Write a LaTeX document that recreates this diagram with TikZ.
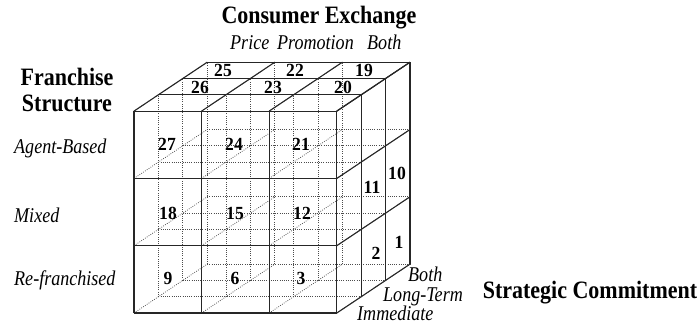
\documentclass[tikz,border=0pt]{standalone}
\usepackage{fontspec}
\setmainfont{Liberation Serif}
\newfontfamily\ttlfont[FakeStretch=0.88]{Liberation Serif}
\newfontfamily\labfont[FakeStretch=0.86]{Liberation Serif}
\newfontfamily\numfont[FakeStretch=0.95]{Liberation Serif}
\begin{document}
\begin{tikzpicture}[x=1pt,y=-1pt,
  solidline/.style={line width=1.1pt,draw=black!85},
  hidden/.style={line width=0.75pt,draw=black!70,dash pattern=on 0.8pt off 1.4pt},
  num/.style={font=\numfont\fontsize{18.5}{18}\selectfont\bfseries,inner sep=0pt},
  lab/.style={font=\labfont\fontsize{21}{22}\selectfont\itshape,inner sep=0pt},
  ttl/.style={font=\ttlfont\fontsize{25}{26}\selectfont\bfseries,inner sep=0pt}]
\useasboundingbox (0,0) rectangle (698,327);
\foreach \i in {0,...,3}{\foreach \j in {0,...,3}{\foreach \k in {0,...,3}{
  \coordinate (p\i\j\k) at ({134+67.6*\i+24.4*\k},{313-67.3*\j-16.3*\k});
}}}
% hidden lattice lines
\foreach \a in {0,...,3}{\foreach \b in {0,...,3}{
  \draw[hidden] (p0\a\b) -- (p3\a\b);
  \draw[hidden] (p\a0\b) -- (p\a3\b);
  \draw[hidden] (p\a\b0) -- (p\a\b3);
}}
% visible surfaces
\foreach \a in {0,...,3}{
  \draw[solidline] (p0\a0) -- (p3\a0);
  \draw[solidline] (p\a00) -- (p\a30);
  \draw[solidline] (p03\a) -- (p33\a);
  \draw[solidline] (p\a30) -- (p\a33);
  \draw[solidline] (p30\a) -- (p33\a);
  \draw[solidline] (p3\a0) -- (p3\a3);
}
% numbers
\node[num] (n25) at (223,70) {25};
\node[num] (n22) at (295,70) {22};
\node[num] (n19) at (364,70) {19};
\node[num] (n26) at (200,87) {26};
\node[num] (n23) at (273,87) {23};
\node[num] (n20) at (343,87) {20};
\node[num] (n27) at (167,144) {27};
\node[num] (n24) at (234,144) {24};
\node[num] (n21) at (301,144) {21};
\node[num] (n18) at (168,213) {18};
\node[num] (n15) at (235,213) {15};
\node[num] (n12) at (302,213) {12};
\node[num] (n9) at (168,278) {9};
\node[num] (n6) at (235,278) {6};
\node[num] (n3) at (301,278) {3};
\node[num] (n11) at (372,187) {11};
\node[num] (n10) at (397,173) {10};
\node[num] (n2) at (376,253) {2};
\node[num] (n1) at (399,242) {1};
% titles and labels
\node[ttl,anchor=base] (t1) at (319,23) {Consumer Exchange};
\node[lab,anchor=base west] (c1) at (230,49) {Price};
\node[lab,anchor=base west] (c2) at (277,49) {Promotion};
\node[lab,anchor=base west] (c3) at (367,49) {Both};
\node[ttl,anchor=base] (t2a) at (67,85) {Franchise};
\node[ttl,anchor=base] (t2b) at (67,111) {Structure};
\node[lab,anchor=base west] (r1) at (14,153) {Agent-Based};
\node[lab,anchor=base west] (r2) at (14,222) {Mixed};
\node[lab,anchor=base west] (r3) at (14,285) {Re-franchised};
\node[lab,anchor=base west] (s1) at (408,281) {Both};
\node[lab,anchor=base west] (s2) at (383,301) {Long-Term};
\node[lab,anchor=base west] (s3) at (357,320) {Immediate};
\node[ttl,anchor=base] (t3) at (590,298) {Strategic Commitment};
\end{tikzpicture}
\end{document}
